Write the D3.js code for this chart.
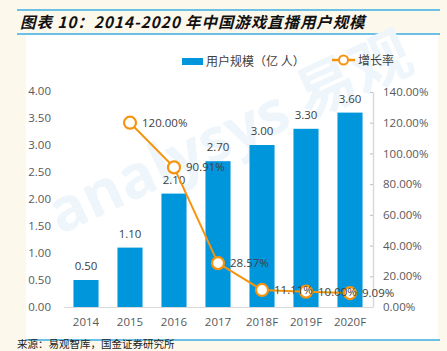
<!DOCTYPE html>
<html><head><meta charset="utf-8">
<script src="https://cdn.jsdelivr.net/npm/d3@7/dist/d3.min.js"></script>
<style>body{margin:0;background:#fdf8ec;}svg{display:block;}</style>
</head><body>
<svg id="c" width="447" height="351"></svg>
<script>
const categories = ["2014","2015","2016","2017","2018F","2019F","2020F"];
const users = [0.50,1.10,2.10,2.70,3.00,3.30,3.60];
const growth = [null,120.00,90.91,28.57,11.11,10.00,9.09];
const leftTicks = [0,0.5,1,1.5,2,2.5,3,3.5,4];
const rightTicks = [0,20,40,60,80,100,120,140];

const svg = d3.select("#c");
const font = "'Open Sans','Noto Sans CJK SC',sans-serif";
svg.append("rect").attr("width",447).attr("height",351).attr("fill","#fdf8ec");
svg.append("rect").attr("x",26).attr("y",35).attr("width",412).attr("height",304).attr("fill","#ffffff");
svg.append("line").attr("x1",17).attr("x2",440).attr("y1",10).attr("y2",10).attr("stroke","#3aaee3").attr("stroke-width",1.5);
svg.append("line").attr("x1",17).attr("x2",440).attr("y1",34).attr("y2",34).attr("stroke","#3aaee3").attr("stroke-width",1.5);
svg.append("line").attr("x1",25).attr("x2",440).attr("y1",340).attr("y2",340).attr("stroke","#3aaee3").attr("stroke-width",1.5);
svg.append("text").attr("x",20).attr("y",28).attr("font-family","'Noto Sans CJK SC',sans-serif")
  .attr("font-size",15.5).attr("font-weight","bold").attr("font-style","italic").attr("fill","#111")
  .attr("letter-spacing",0.9)
  .text("图表 10：2014-2020 年中国游戏直播用户规模");
svg.append("text").attr("x",17).attr("y",348).attr("font-family","'Noto Sans CJK SC',sans-serif")
  .attr("font-size",10.5).attr("fill","#222").text("来源：易观智库，国金证券研究所");

// faint watermark
svg.append("text").attr("x",60).attr("y",235).attr("transform","rotate(-25,60,235)")
  .attr("font-family",font).attr("font-size",60).attr("font-weight","bold").attr("fill","#eef6fc")
  .text("analysys 易观");

const x = d3.scaleBand().domain(categories).range([64,372]).paddingInner(0.43).paddingOuter(0.215);
const xc = d3.scaleBand().domain(categories).range([64,372]);
const y = d3.scaleLinear().domain([0,4]).range([307,91]);
const y2 = d3.scaleLinear().domain([0,140]).range([307,92]);

// left axis labels
const la = svg.append("g").attr("transform","translate(51,0)")
  .call(d3.axisLeft(y).tickValues(leftTicks).tickFormat(d3.format(".2f")).tickSize(0).tickPadding(0));
la.select(".domain").remove();
la.selectAll("text").attr("font-family",font).attr("font-size",11.5).attr("fill","#595959");

// right axis
const ra = svg.append("g").attr("transform","translate(373,0)")
  .call(d3.axisRight(y2).tickValues(rightTicks).tickFormat(d=>d.toFixed(2)+"%").tickSize(0).tickPadding(10));
ra.select(".domain").attr("stroke","#d9d9d9").attr("stroke-width",1.5);
ra.selectAll(".tick line").attr("x1",-3).attr("x2",0).attr("stroke","#bfbfbf");
ra.selectAll("text").attr("font-family",font).attr("font-size",11.5).attr("fill","#595959");

// bars
svg.append("g").selectAll("rect").data(users).join("rect")
  .attr("x",(d,i)=>x(categories[i])).attr("width",x.bandwidth())
  .attr("y",d=>y(d)).attr("height",d=>y(0)-y(d)).attr("fill","#0096dc");
svg.append("g").selectAll("text").data(users).join("text")
  .attr("x",(d,i)=>x(categories[i])+x.bandwidth()/2).attr("y",d=>y(d)-10)
  .attr("text-anchor","middle").attr("font-family",font).attr("font-size",11.5).attr("fill","#404040")
  .text(d=>d.toFixed(2));

// x axis
const xa = svg.append("g").attr("transform","translate(0,307)")
  .call(d3.axisBottom(xc).tickSize(0).tickPadding(11));
xa.select(".domain").attr("stroke","#d9d9d9");
xa.selectAll("text").attr("font-family",font).attr("font-size",11.5).attr("fill","#595959");

// line
const pts = growth.map((g,i)=>({c:categories[i],g})).filter(d=>d.g!==null);
const cx = d=>xc(d.c)+xc.bandwidth()/2;
svg.append("path").datum(pts).attr("fill","none").attr("stroke","#f7940f").attr("stroke-width",2)
  .attr("d",d3.line().x(cx).y(d=>y2(d.g)));
svg.append("g").selectAll("circle").data(pts).join("circle")
  .attr("cx",cx).attr("cy",d=>y2(d.g)).attr("r",6).attr("fill","#fff").attr("stroke","#f7940f").attr("stroke-width",2.2);
svg.append("g").selectAll("text").data(pts).join("text")
  .attr("x",d=>cx(d)+12).attr("y",d=>y2(d.g)+4)
  .attr("font-family",font).attr("font-size",11.5).attr("fill","#404040")
  .text(d=>d.g.toFixed(2)+"%");

// legend
svg.append("rect").attr("x",182).attr("y",58).attr("width",21).attr("height",7).attr("fill","#0096dc");
svg.append("text").attr("x",206).attr("y",66).attr("font-family","'Noto Sans CJK SC',sans-serif").attr("font-size",12).attr("fill","#404040").text("用户规模（亿 人）");
svg.append("line").attr("x1",332).attr("x2",355).attr("y1",60).attr("y2",60).attr("stroke","#f7940f").attr("stroke-width",2.5);
svg.append("circle").attr("cx",343.5).attr("cy",60).attr("r",4.5).attr("fill","#fff").attr("stroke","#f7940f").attr("stroke-width",2);
svg.append("text").attr("x",358).attr("y",65).attr("font-family","'Noto Sans CJK SC',sans-serif").attr("font-size",12).attr("fill","#404040").text("增长率");
</script>
</body></html>
